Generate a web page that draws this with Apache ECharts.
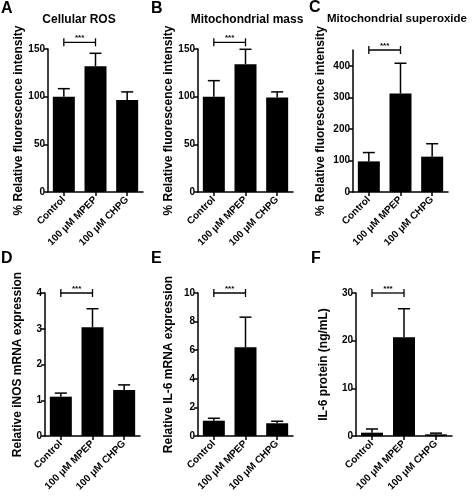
<!DOCTYPE html>
<html>
<head>
<meta charset="utf-8">
<script src="https://cdn.jsdelivr.net/npm/echarts@6/dist/echarts.min.js"></script>
<style>
html,body{margin:0;padding:0;background:#fff;}
#chart{width:472px;height:500px;}
</style>
</head>
<body>
<div id="chart"></div>
<script>
// ---- data ----
const categories = ['Control', '100 μM MPEP', '100 μM CHPG'];

const meansA = [100, 132, 96.5];
const errA   = [8.4, 13.5, 8.5];
const meansB = [100, 134, 99];
const errB   = [16.8, 15.7, 6];
const meansC = [97, 312, 112];
const errC   = [28, 96, 41];
const meansD = [1.10, 3.04, 1.29];
const errD   = [0.10, 0.52, 0.14];
const meansE = [1.07, 6.21, 0.89];
const errE   = [0.17, 2.10, 0.14];
const meansF = [0.7, 20.7, 0.35];
const errF   = [0.77, 6.0, 0.25];

const panelTitles = ['Cellular ROS', 'Mitochondrial mass', 'Mitochondrial superoxide', '', '', ''];
const panelLetters = ['A', 'B', 'C', 'D', 'E', 'F'];
const yNames = [
  '% Relative fluorescence intensity',
  '% Relative fluorescence intensity',
  '% Relative fluorescence intensity',
  'Relative iNOS mRNA expression',
  'Relative IL-6 mRNA expression',
  'IL-6 protein (ng/mL)'
];
const yMax = [150, 150, 450, 4, 10, 30];
const yInterval = [50, 50, 100, 1, 2, 10];
const yTicksC = [0, 100, 200, 300, 400];
const sigLabel = '***';
const sigLevel = [157, 157, 450, 4, 10, 30];

const allMeans = [meansA, meansB, meansC, meansD, meansE, meansF];
const allErrs = [errA, errB, errC, errD, errE, errF];

// ---- layout ----
const FONT = 'Liberation Sans, Arial, sans-serif';
const grids = [
  {left: 48, top: 49, width: 95, height: 143},
  {left: 198, top: 49, width: 95, height: 143},
  {left: 353, top: 50, width: 95, height: 142},
  {left: 45, top: 293, width: 95, height: 143},
  {left: 198, top: 293, width: 95, height: 143},
  {left: 356, top: 293, width: 96, height: 143}
];
const nameGaps = [17, 23, 26, 21, 23, 26];
const titlePos = [[79, 20], [247, 20], [397, 19]];
const letterPos = [[1, 1], [151, 1], [309, 0], [1, 251], [151, 251], [311, 251]];

const lineStyle = {color: '#000', width: 1.5};

function errRender(params, api) {
  const x = api.value(0), m = api.value(1), e = api.value(2);
  const base = api.coord([x, m]);
  const top = api.coord([x, m + e]);
  return {
    type: 'group',
    children: [
      {type: 'line', shape: {x1: base[0], y1: base[1], x2: top[0], y2: top[1]}, style: {stroke: '#000', lineWidth: 1.5}},
      {type: 'line', shape: {x1: top[0] - 6, y1: top[1], x2: top[0] + 6, y2: top[1]}, style: {stroke: '#000', lineWidth: 1.5}}
    ]
  };
}
function sigRender(params, api) {
  const lv = api.value(1);
  const p0 = api.coord([api.value(0), lv]);
  const p1 = api.coord([api.value(2), lv]);
  const st = {stroke: '#000', lineWidth: 1.3};
  return {
    type: 'group',
    children: [
      {type: 'line', shape: {x1: p0[0], y1: p0[1], x2: p1[0], y2: p1[1]}, style: st},
      {type: 'line', shape: {x1: p0[0], y1: p0[1] - 4, x2: p0[0], y2: p0[1] + 4}, style: st},
      {type: 'line', shape: {x1: p1[0], y1: p1[1] - 4, x2: p1[0], y2: p1[1] + 4}, style: st},
      {type: 'text', style: {text: sigLabel, x: (p0[0] + p1[0]) / 2, y: p0[1] - 0.5, align: 'center', verticalAlign: 'bottom', font: 'bold 8px ' + FONT, fill: '#000'}}
    ]
  };
}

const option = {
  animation: false,
  backgroundColor: '#fff',
  grid: grids.map(g => Object.assign({containLabel: false}, g)),
  xAxis: grids.map((g, i) => ({
    type: 'category',
    gridIndex: i,
    data: categories,
    axisLine: {lineStyle: lineStyle},
    axisTick: {show: true, alignWithLabel: true, length: 4, lineStyle: lineStyle},
    axisLabel: {interval: 0, rotate: 45, fontSize: 10, fontWeight: 'bold', color: '#000', fontFamily: FONT, margin: 6},
    splitLine: {show: false}
  })),
  yAxis: grids.map((g, i) => {
    const ax = {
      type: 'value',
      gridIndex: i,
      min: 0,
      max: yMax[i],
      interval: yInterval[i],
      name: yNames[i],
      nameLocation: 'middle',
      nameGap: nameGaps[i],
      nameTextStyle: {fontSize: 12, fontWeight: 'bold', color: '#000', fontFamily: FONT},
      axisLine: {show: true, lineStyle: lineStyle},
      axisTick: {show: true, length: 4, lineStyle: lineStyle},
      axisLabel: {fontSize: 10, fontWeight: 'bold', color: '#000', fontFamily: FONT, margin: 3},
      splitLine: {show: false}
    };
    if (i === 2) {
      ax.axisLabel.customValues = yTicksC;
      ax.axisTick.customValues = yTicksC;
    }
    return ax;
  }),
  series: [].concat(
    allMeans.map((m, i) => ({
      type: 'bar',
      xAxisIndex: i, yAxisIndex: i,
      data: m,
      barWidth: 22,
      itemStyle: {color: '#000'},
      silent: true
    })),
    allMeans.map((m, i) => ({
      type: 'custom',
      xAxisIndex: i, yAxisIndex: i,
      renderItem: errRender,
      clip: false,
      encode: {x: 0, y: 1},
      data: m.map((v, k) => [k, v, allErrs[i][k]]),
      z: 5
    })),
    sigLevel.map((lv, i) => ({
      type: 'custom',
      xAxisIndex: i, yAxisIndex: i,
      renderItem: sigRender,
      clip: false,
      encode: {x: 0, y: 1},
      data: [[0, lv, 1]],
      z: 5
    }))
  ),
  graphic: [].concat(
    titlePos.map((p, i) => ({
      type: 'text', x: p[0], y: p[1],
      style: {text: panelTitles[i], align: 'center', verticalAlign: 'middle', font: 'bold ' + (i === 2 ? 11.5 : 12) + 'px ' + FONT, fill: '#000'}
    })),
    letterPos.map((p, i) => ({
      type: 'text', x: p[0], y: p[1],
      style: {text: panelLetters[i], align: 'left', verticalAlign: 'top', font: 'bold 16px ' + FONT, fill: '#000'}
    }))
  )
};

const chart = echarts.init(document.getElementById('chart'), null, {renderer: 'canvas'});
chart.setOption(option);
</script>
</body>
</html>
